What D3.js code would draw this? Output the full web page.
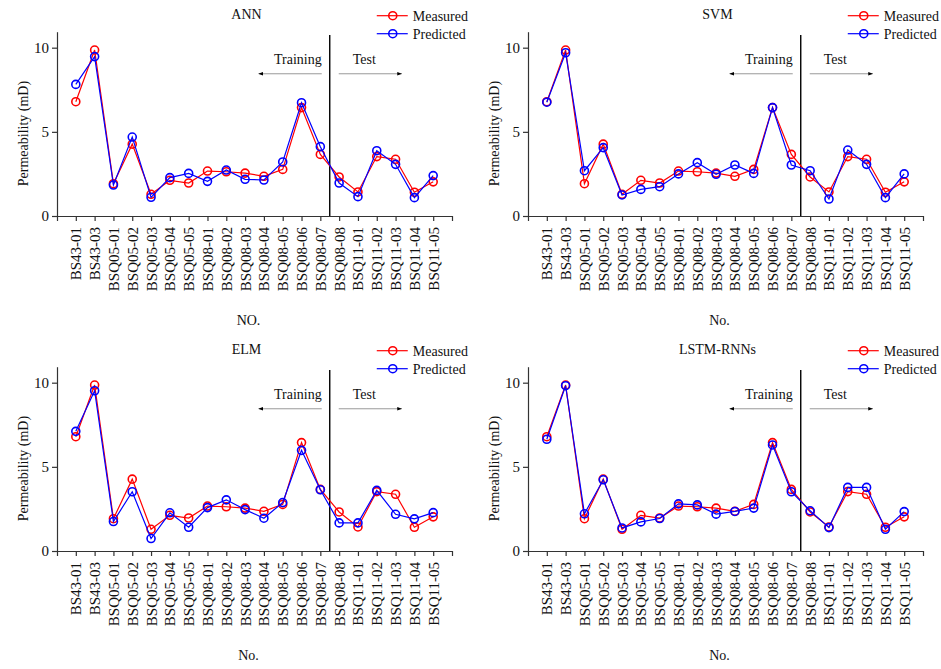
<!DOCTYPE html>
<html>
<head>
<meta charset="utf-8">
<script src="https://cdn.jsdelivr.net/npm/d3@7"></script>
<style>
  html, body { margin: 0; padding: 0; background: #fff; }
  svg { display: block; font-family: "Liberation Serif", "Times New Roman", serif; }
</style>
</head>
<body>
<svg id="chart" width="941" height="669"></svg>
<script>
// ---- data ----
const samples = ["BS43-01","BS43-03","BSQ05-01","BSQ05-02","BSQ05-03","BSQ05-04","BSQ05-05",
  "BSQ08-01","BSQ08-02","BSQ08-03","BSQ08-04","BSQ08-05","BSQ08-06","BSQ08-07","BSQ08-08",
  "BSQ11-01","BSQ11-02","BSQ11-03","BSQ11-04","BSQ11-05"];
const measured = [6.79, 9.86, 1.92, 4.27, 1.29, 2.12, 1.96, 2.67, 2.63, 2.55, 2.36, 2.77, 6.44, 3.66, 2.32, 1.43, 3.53, 3.37, 1.41, 2.03];
const annPred  = [7.82, 9.47, 1.84, 4.69, 1.11, 2.28, 2.53, 2.06, 2.73, 2.18, 2.14, 3.21, 6.73, 4.12, 1.96, 1.15, 3.88, 3.07, 1.09, 2.40];
const svmPred  = [6.76, 9.70, 2.69, 4.06, 1.25, 1.58, 1.74, 2.50, 3.17, 2.48, 3.03, 2.53, 6.44, 3.03, 2.69, 1.01, 3.92, 3.07, 1.09, 2.50];
const elmPred  = [7.11, 9.52, 1.75, 3.52, 0.74, 2.27, 1.41, 2.58, 3.04, 2.46, 1.95, 2.88, 5.98, 3.64, 1.67, 1.67, 3.60, 2.18, 1.91, 2.28];
const lstmPred = [6.64, 9.82, 2.21, 4.23, 1.37, 1.73, 1.93, 2.80, 2.74, 2.19, 2.35, 2.55, 6.30, 3.52, 2.39, 1.39, 3.78, 3.78, 1.29, 2.34];
const modelNames = ["ANN", "SVM", "ELM", "LSTM-RNNs"];
const xLabels = ["NO.", "No.", "No.", "No."];
const yTicks = [0, 5, 10];
const seriesNames = ["Measured", "Predicted"];
const trainCount = 14;

// ---- layout ----
const svg = d3.select("#chart");
const panels = [
  { ox: 57,  oy: 216, pred: annPred },
  { ox: 528, oy: 216, pred: svmPred },
  { ox: 57,  oy: 551, pred: elmPred },
  { ox: 528, oy: 551, pred: lstmPred }
];
const plotW = 395, plotH = 184.3;
const colors = ["#ff0000", "#0000ff"];
const FONT = 15;

svg.append("defs").append("marker")
  .attr("id", "ah").attr("viewBox", "0 0 10 10").attr("refX", 9).attr("refY", 5)
  .attr("markerWidth", 5).attr("markerHeight", 5).attr("orient", "auto-start-reverse")
  .append("path").attr("d", "M0,1.5 L10,5 L0,8.5 z").attr("fill", "#000");

panels.forEach((p, pi) => {
  const g = svg.append("g").attr("transform", `translate(${p.ox},${p.oy - plotH})`);
  const x = d3.scaleLinear().domain([0, samples.length + 1]).range([0, plotW]);
  const y = d3.scaleLinear().domain([0, 10.95]).range([plotH, 0]);

  // x axis
  const xa = g.append("g").attr("transform", `translate(0,${plotH})`)
    .call(d3.axisBottom(x).tickValues(d3.range(1, samples.length + 1))
      .tickFormat(i => samples[i - 1]).tickSize(5).tickSizeOuter(5).tickPadding(0));
  xa.selectAll("text")
    .attr("transform", "rotate(-90)")
    .attr("text-anchor", "end")
    .attr("x", -11).attr("y", 0).attr("dy", "0.33em")
    .style("font-size", FONT + "px").style("font-family", "Liberation Serif").attr("fill", "#111");
  // y axis
  const ya = g.append("g")
    .call(d3.axisLeft(y).tickValues(yTicks).tickSize(5).tickSizeOuter(0).tickPadding(3));
  ya.selectAll("text").style("font-size", FONT + "px").style("font-family", "Liberation Serif").attr("fill", "#111");
  g.selectAll(".domain, .tick line").attr("stroke", "#333").attr("stroke-width", 1.2);

  // y label
  g.append("text").attr("transform", `translate(${-29},${y(4.9)}) rotate(-90)`)
    .attr("text-anchor", "middle").style("font-size", "14px").attr("fill", "#111")
    .text("Permeability (mD)");
  // x label
  g.append("text").attr("x", x(10.5) - 6).attr("y", plotH + 109)
    .attr("text-anchor", "middle").style("font-size", "14px").attr("fill", "#111")
    .text(xLabels[pi]);
  // title
  g.append("text").attr("x", x(10.5) - 8).attr("y", -13)
    .attr("text-anchor", "middle").style("font-size", "14px").attr("fill", "#111")
    .text(modelNames[pi]);

  // divider
  const dx = x(trainCount + 0.5);
  g.append("line").attr("x1", dx).attr("x2", dx).attr("y1", y(10.75)).attr("y2", plotH)
    .attr("stroke", "#000").attr("stroke-width", 1.4);
  // Training / Test annotations
  g.append("text").attr("x", dx - 8).attr("y", y(9.02)).attr("text-anchor", "end")
    .style("font-size", "14px").attr("fill", "#111").text("Training");
  g.append("text").attr("x", dx + 23).attr("y", y(9.05)).attr("text-anchor", "start")
    .style("font-size", "14px").attr("fill", "#111").text("Test");
  const ay = y(8.45);
  g.append("line").attr("x1", dx - 8).attr("x2", dx - 71).attr("y1", ay).attr("y2", ay)
    .attr("stroke", "#999").attr("stroke-width", 1).attr("marker-end", "url(#ah)");
  g.append("line").attr("x1", dx + 9).attr("x2", dx + 72).attr("y1", ay).attr("y2", ay)
    .attr("stroke", "#999").attr("stroke-width", 1).attr("marker-end", "url(#ah)");

  // series
  [measured, p.pred].forEach((vals, si) => {
    const line = d3.line().x((d, i) => x(i + 1)).y(d => y(d));
    g.append("path").datum(vals).attr("d", line)
      .attr("fill", "none").attr("stroke", colors[si]).attr("stroke-width", 1.2);
    g.selectAll(null).data(vals).enter().append("circle")
      .attr("cx", (d, i) => x(i + 1)).attr("cy", d => y(d)).attr("r", 4)
      .attr("fill", "none").attr("stroke", colors[si]).attr("stroke-width", 1.6);
  });

  // legend
  const lg = g.append("g").attr("transform", `translate(${x(17)},${-16})`);
  seriesNames.forEach((nm, si) => {
    const row = lg.append("g").attr("transform", `translate(0,${si * 18})`);
    row.append("line").attr("x1", 0).attr("x2", 31).attr("y1", 0).attr("y2", 0)
      .attr("stroke", colors[si]).attr("stroke-width", 1.2);
    row.append("circle").attr("cx", 16).attr("cy", 0).attr("r", 4)
      .attr("fill", "none").attr("stroke", colors[si]).attr("stroke-width", 1.6);
    row.append("text").attr("x", 36).attr("y", 5).style("font-size", "14px")
      .attr("fill", "#111").text(nm);
  });
});
</script>
</body>
</html>
